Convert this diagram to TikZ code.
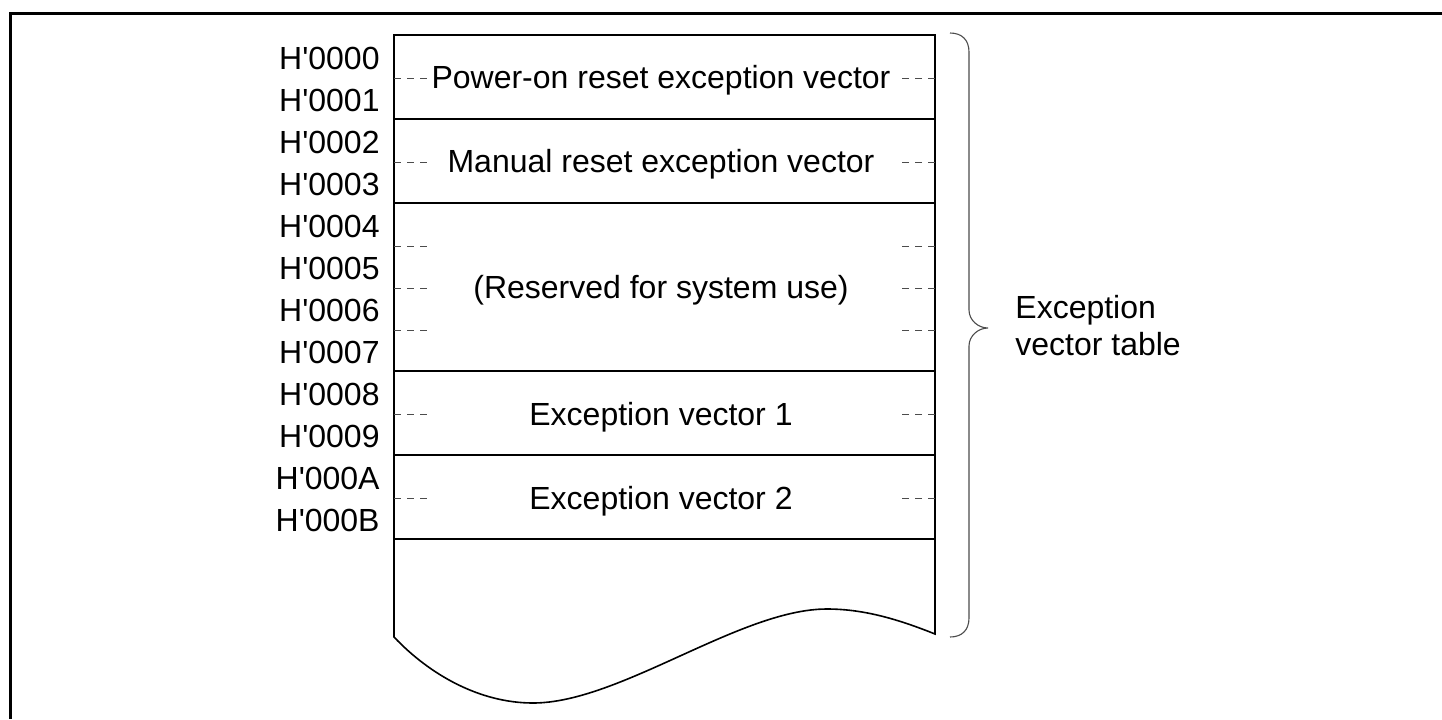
\documentclass[tikz,border=0pt]{standalone}
\usepackage{fontspec}
\setmainfont{Liberation Sans}[Ligatures=TeXOff]

\tikzset{
	lbl/.style={font=\fontsize{16pt}{19.2pt}\selectfont, inner sep=0pt},
	dsh/.style={draw=black!70, line width=0.5pt, dash pattern=on 3.5pt off 3pt},
	brc/.style={draw=black!70, line width=0.55pt}
}

\begin{document}
\begin{tikzpicture}[x=0.5pt,y=-0.5pt]
	\useasboundingbox (0,0) rectangle (1442,719);
	\draw[line width=1.5pt] (1442,13) -- (10,13) -- (10,719);
	\draw[line width=0.8pt] (394,637) -- (394,35) -- (935,35) -- (935,634)
	.. controls (900,620) and (865,609) .. (827,609)
	.. controls (740,609) and (620,703) .. (533,703)
	.. controls (480,703) and (430,675) .. (394,637) -- cycle;
	\foreach \y in {119,203,371,455,539}
		\draw[line width=0.7pt] (394,\y) -- (935,\y);
	\foreach \y in {78,162,246,288,330,414,498} {
		\draw[dsh] (394,\y) -- +(34,0);
		\draw[dsh] (935,\y) -- +(-38,0);
	}
	\foreach \k/\t in {0/0000,1/0001,2/0002,3/0003,4/0004,5/0005,6/0006,7/0007,8/0008,9/0009,10/000A,11/000B}
		\node[lbl, anchor=base east] (a\k) at (380,{69+42*\k}) {H'\t};
	\node[lbl, anchor=base] (pwr) at (661,88) {Power-on reset exception vector};
	\node[lbl, anchor=base] (man) at (661,172) {Manual reset exception vector};
	\node[lbl, anchor=base] (rsv) at (661,298) {(Reserved for system use)};
	\node[lbl, anchor=base] (ev1) at (661,425) {Exception vector 1};
	\node[lbl, anchor=base] (ev2) at (661,509) {Exception vector 2};
	\draw[brc] (950,33) .. controls (962,33) and (969,40) .. (969,52) -- (969,310)
	.. controls (969,320) and (978,328) .. (988,328)
	.. controls (978,328) and (969,336) .. (969,346) -- (969,618)
	.. controls (969,630) and (962,637) .. (950,637);
	\node[lbl, anchor=base west] (tbl) at (1015,318) {Exception};
	\node[lbl, anchor=base west] (tbl2) at ([yshift=-18.5pt]tbl.base west) {vector table};
\end{tikzpicture}
\end{document}
